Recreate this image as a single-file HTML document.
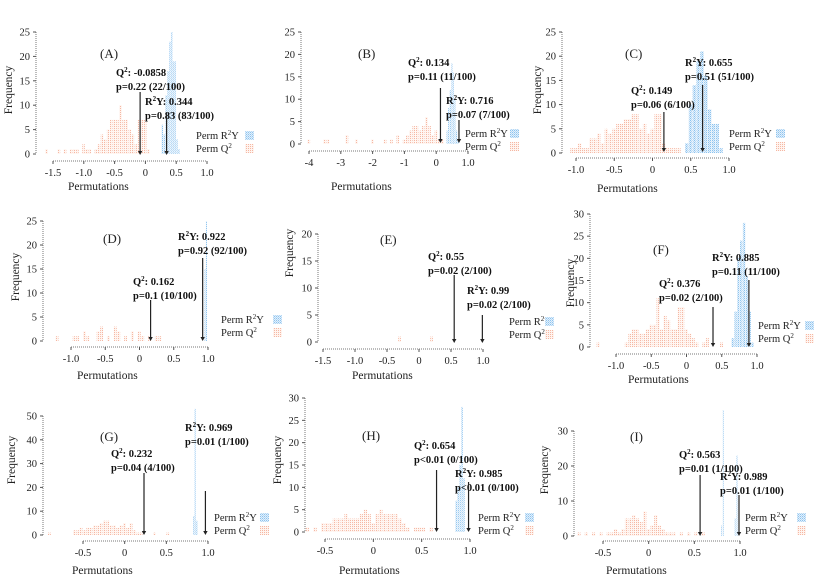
<!DOCTYPE html>
<html><head><meta charset="utf-8">
<style>
html,body{margin:0;padding:0;background:#fff;}
svg{display:block;font-family:"Liberation Serif",serif;}
.tk{font-size:10.5px;fill:#222;}
.ann{font-size:10.5px;font-weight:bold;fill:#111;}
.lg{font-size:10.5px;fill:#222;}
.pl{font-size:13px;fill:#222;}
.ttl{font-size:11.5px;fill:#222;}
</style></head>
<body>
<svg id="fig" width="830" height="584" viewBox="0 0 830 584">
<defs>
<pattern id="pq" width="2" height="2" patternUnits="userSpaceOnUse"><rect width="2" height="2" fill="#fff4ef"/><rect width="1" height="1" fill="#f5b7a3"/></pattern>
<pattern id="pr" width="2" height="2" patternUnits="userSpaceOnUse"><rect width="2" height="2" fill="#e3f0fb"/><rect width="1" height="1" fill="#8cc3ef"/><rect x="1" y="1" width="1" height="1" fill="#b5d8f5"/></pattern>
</defs>
</svg>
<script>
// ---- data (bin centers & counts) ----
const A_qBins=[-1.6,-1.4,-1.3,-1.2,-1.15,-1.1,-1.0,-0.95,-0.9,-0.8,-0.75,-0.7,-0.65,-0.6,-0.55,-0.5,-0.45,-0.4,-0.35,-0.3,-0.25,-0.2,-0.15,-0.1,-0.05,0,0.05];
const A_qCounts=[1,1,1,1,1,1,2,1,1,1,2,4,3,5,7,7,7,10,7,7,5,4,2,7,7,7,1];
const A_rBins=[0.28,0.31,0.34,0.37,0.40,0.43,0.46,0.49,0.52,0.55];
const A_rCounts=[6,4,12,17,23,25,19,19,3,1];
const B_qBins=[-4.0,-3.5,-3.4,-2.8,-2.5,-2.0,-1.6,-1.4,-1.2,-1.0,-0.9,-0.8,-0.7,-0.6,-0.5,-0.4,-0.3,-0.2,-0.1,0,0.1,0.2];
const B_qCounts=[1,1,1,2,1,1,1,1,2,1,2,3,4,4,3,4,6,4,2,3,1,1];
const B_rBins=[0.35,0.4,0.45,0.5,0.55,0.6,0.65,0.7];
const B_rCounts=[3,8,12,18,16,10,3,1];
const C_qBins=[-1.05,-1.0,-0.95,-0.9,-0.85,-0.8,-0.75,-0.7,-0.65,-0.6,-0.55,-0.5,-0.45,-0.4,-0.35,-0.3,-0.25,-0.2,-0.15,-0.1,-0.05,0,0.05,0.1,0.15,0.2,0.25,0.3,0.35];
const C_qCounts=[1,1,2,1,1,3,3,4,2,5,4,5,6,6,7,7,8,8,5,6,4,5,8,8,2,1,1,1,1];
const C_rBins=[0.45,0.5,0.55,0.6,0.65,0.7,0.75,0.8,0.85,0.9];
const C_rCounts=[2,10,14,19,21,16,9,6,6,1];
const D_qBins=[-1.2,-0.95,-0.9,-0.8,-0.75,-0.6,-0.55,-0.45,-0.35,-0.3,-0.2,-0.1,0,0.05,0.15,0.25,0.3];
const D_qCounts=[1,1,1,2,1,2,3,1,3,2,1,2,2,1,1,1,1];
const D_rBins=[0.96,0.98];
const D_rCounts=[15,25];
const E_qBins=[-0.3,0.2];
const E_qCounts=[1,1];
const E_rBins=[0.99];
const E_rCounts=[0];
const F_qBins=[-1.25,-0.85,-0.8,-0.75,-0.7,-0.65,-0.6,-0.55,-0.5,-0.45,-0.4,-0.35,-0.3,-0.25,-0.2,-0.15,-0.1,-0.05,0,0.05,0.1,0.15,0.25,0.3,0.5];
const F_qCounts=[1,1,3,4,4,3,3,4,5,5,11,4,7,6,4,4,9,9,4,3,2,1,1,2,1];
const F_rBins=[0.66,0.7,0.74,0.78,0.82,0.86,0.9,0.94];
const F_rCounts=[2,8,20,24,28,16,8,1];
const G_qBins=[-0.9,-0.6,-0.56,-0.52,-0.48,-0.44,-0.4,-0.36,-0.32,-0.28,-0.24,-0.2,-0.16,-0.12,-0.08,-0.04,0,0.04,0.08,0.12,0.16,0.2,0.36,0.52];
const G_qCounts=[1,2,2,3,2,3,3,4,4,5,6,6,4,4,3,4,5,3,5,2,1,1,1,1];
const G_rBins=[0.83,0.85,0.87];
const G_rCounts=[8,53,6];
const H_qBins=[-0.68,-0.6,-0.52,-0.48,-0.44,-0.4,-0.36,-0.32,-0.28,-0.24,-0.2,-0.16,-0.12,-0.08,-0.04,0,0.04,0.08,0.12,0.16,0.2,0.24,0.28,0.32,0.36,0.44,0.48,0.52,0.6];
const H_qCounts=[1,1,2,2,2,3,3,3,4,3,3,3,4,5,4,2,4,5,4,4,4,4,3,2,1,1,1,1,1];
const H_rBins=[0.86,0.88,0.9,0.92,0.94];
const H_rCounts=[7,10,15,28,12];
const I_qBins=[-0.76,-0.68,-0.6,-0.52,-0.44,-0.4,-0.36,-0.32,-0.28,-0.24,-0.2,-0.16,-0.12,-0.08,-0.04,0,0.04,0.08,0.12,0.16,0.2,0.24,0.28,0.36,0.44,0.52,0.6];
const I_qCounts=[1,1,1,1,1,1,2,1,2,5,5,6,5,4,7,2,3,6,3,2,1,1,1,1,1,1,1];
const I_rBins=[0.8,0.82,0.95,0.97];
const I_rCounts=[3,36,5,23];
// tick labels
const A_xTicks=[-1.5,-1.0,-0.5,0,0.5,1.0]; const A_xLabels=["-1.5","-1.0","-0.5","0","0.5","1.0"];
const B_xTicks=[-4,-3,-2,-1,0,1]; const B_xLabels=["-4","-3","-2","-1","0","1.0"];
const C_xTicks=[-1,-0.5,0,0.5,1]; const C_xLabels=["-1.0","-0.5","0","0.5","1.0"];
const E_xTicks=[-1.5,-1,-0.5,0,0.5,1]; const E_xLabels=["-1.5","-1.0","-0.5","0","0.5","1.0"];
const G_xTicks=[-0.5,0,0.5,1]; const G_xLabels=["-0.5","0","0.5","1.0"];
const Y25=[0,5,10,15,20,25]; const Y20=[0,5,10,15,20]; const Y30=[0,5,10,15,20,25,30];
const Y50=[0,10,20,30,40,50]; const Y30b=[0,10,20,30];
// Q2 / R2Y observed values
const obsQ=[-0.0858,0.134,0.149,0.162,0.55,0.376,0.232,0.654,0.563];
const obsR=[0.344,0.716,0.655,0.922,0.99,0.885,0.969,0.985,0.989];

// ---- layout ----
const P=[
 {id:"A",ax:36,y0:154,yt:32,ymax:25,yT:Y25,xa:161,v0:-1.5,x0:53,v1:1,x1:207,xT:A_xTicks,xL:A_xLabels,qb:A_qBins,qc:A_qCounts,rb:A_rBins,rc:A_rCounts,qw:0.05,rw:0.03,
  lab:[100,58],qt:[116,76],qa:[92,155],rt:[145,105],ra:[113,155],lg:[196,245,139],ft:8,fy:90,tt:[68,190]},
 {id:"B",ax:301,y0:144,yt:32,ymax:25,yT:Y25,xa:151,v0:-4,x0:309,v1:1,x1:468,xT:B_xTicks,xL:B_xLabels,qb:B_qBins,qc:B_qCounts,rb:B_rBins,rc:B_rCounts,qw:0.1,rw:0.05,
  lab:[358,58],qt:[408,66],qa:[88,143],rt:[446,104],ra:[120,143],lg:[465,510,137],ft:null,tt:[331,190]},
 {id:"C",ax:562,y0:153,yt:32,ymax:25,yT:Y25,xa:158,v0:-1,x0:576,v1:1,x1:729,xT:C_xTicks,xL:C_xLabels,qb:C_qBins,qc:C_qCounts,rb:C_rBins,rc:C_rCounts,qw:0.05,rw:0.05,
  lab:[625,58],qt:[631,94],qa:[112,152],rt:[685,66],ra:[85,152],lg:[729,776,137],ft:537,fy:90,tt:[597,192]},
 {id:"D",ax:43,y0:341,yt:221,ymax:25,yT:Y25,xa:347,v0:-1,x0:71,v1:1,x1:208,xT:C_xTicks,xL:C_xLabels,qb:D_qBins,qc:D_qCounts,rb:D_rBins,rc:D_rCounts,qw:0.05,rw:0.02,
  lab:[103,243],qt:[133,285],qa:[300,341],rt:[178,240],ra:[258,341],lg:[221,273,323],ft:15,fy:277,tt:[77,379]},
 {id:"E",ax:318,y0:342,yt:234,ymax:20,yT:Y20,xa:349,v0:-1.5,x0:323,v1:1,x1:483,xT:E_xTicks,xL:E_xLabels,qb:E_qBins,qc:E_qCounts,rb:E_rBins,rc:E_rCounts,qw:0.05,rw:0.02,
  lab:[380,244],qt:[428,260],qa:[275,343],rt:[467,294],ra:[315,343],lg:[509,545,325],ft:289,fy:253,tt:[352,379]},
 {id:"F",ax:590,y0:347,yt:214,ymax:30,yT:Y30,xa:354,v0:-1,x0:616,v1:1,x1:757,xT:C_xTicks,xL:C_xLabels,qb:F_qBins,qc:F_qCounts,rb:F_rBins,rc:F_rCounts,qw:0.05,rw:0.04,
  lab:[653,254],qt:[659,287],qa:[307,347],rt:[712,261],ra:[280,347],lg:[758,805,329],ft:570,fy:283,tt:[628,383]},
 {id:"G",ax:43,y0:535,yt:416,ymax:50,yT:Y50,xa:541,v0:-0.5,x0:83,v1:1,x1:208,xT:G_xTicks,xL:G_xLabels,qb:G_qBins,qc:G_qCounts,rb:G_rBins,rc:G_rCounts,qw:0.04,rw:0.02,
  lab:[100,441],qt:[111,457],qa:[473,535],rt:[185,431],ra:[491,535],lg:[214,260,521],ft:11,fy:460,tt:[72,574]},
 {id:"H",ax:305,y0:532,yt:398,ymax:30,yT:Y30,xa:539,v0:-0.5,x0:325,v1:1,x1:470,xT:G_xTicks,xL:G_xLabels,qb:H_qBins,qc:H_qCounts,rb:H_rBins,rc:H_rCounts,qw:0.04,rw:0.02,
  lab:[362,440],qt:[414,449],qa:[470,532],rt:[455,477],ra:[482,532],lg:[478,525,521],ft:277,fy:460,tt:[339,574]},
 {id:"I",ax:574,y0:536,yt:431,ymax:30,yT:Y30b,xa:541,v0:-0.5,x0:603,v1:1,x1:740,xT:G_xTicks,xL:G_xLabels,qb:I_qBins,qc:I_qCounts,rb:I_rBins,rc:I_rCounts,qw:0.04,rw:0.015,
  lab:[630,441],qt:[679,458],qa:[475,536],rt:[720,480],ra:[495,536],lg:[745,797,521],ft:544,fy:470,tt:[606,574]}
];
const qP=["p=0.22 (22/100)","p=0.11 (11/100)","p=0.06 (6/100)","p=0.1 (10/100)","p=0.02 (2/100)","p=0.02 (2/100)","p=0.04 (4/100)","p<0.01 (0/100)","p=0.01 (1/100)"];
const rP=["p=0.83 (83/100)","p=0.07 (7/100)","p=0.51 (51/100)","p=0.92 (92/100)","p=0.02 (2/100)","p=0.11 (11/100)","p=0.01 (1/100)","p<0.01 (0/100)","p=0.01 (1/100)"];
const qS=["-0.0858","0.134","0.149","0.162","0.55","0.376","0.232","0.654","0.563"];
const rS=["0.344","0.716","0.655","0.922","0.99","0.885","0.969","0.985","0.989"];

const svg=document.getElementById('fig');
const NS="http://www.w3.org/2000/svg";
function mk(tag,attrs,parent){const e=document.createElementNS(NS,tag);for(const k in attrs)e.setAttribute(k,attrs[k]);(parent||svg).appendChild(e);return e;}

P.forEach((p,i)=>{
 const g=mk('g',{});
 
 
 const xs=v=>p.x0+(v-p.v0)*(p.x1-p.x0)/(p.v1-p.v0);
 const ys=c=>p.y0-c*(p.y0-p.yt)/p.ymax;
 const ppu=(p.x1-p.x0)/(p.v1-p.v0);
 p.qb.forEach((b,j)=>{
  const h=p.y0-ys(p.qc[j]); if(h<=0)return;
  const r=mk('rect',{x:xs(b)-p.qw*ppu/2,y:ys(p.qc[j]),width:Math.max(1,p.qw*ppu-0.5),height:h,fill:'url(#pq)'},g);
  
  
 });
 p.rb.forEach((b,j)=>{
  const h=p.y0-ys(p.rc[j]); if(h<=0)return;
  const r=mk('rect',{x:xs(b)-p.rw*ppu/2,y:ys(p.rc[j]),width:Math.max(1,p.rw*ppu-0.5),height:h,fill:'url(#pr)'},g);
  
  
 });
 const ya=mk('line',{x1:p.ax,y1:p.yt,x2:p.ax,y2:p.y0,stroke:'#777','stroke-width':1,'stroke-dasharray':'1 1'},g);
  
 p.yT.forEach(t=>{
  const y=ys(t);
  mk('line',{x1:p.ax-3,y1:y,x2:p.ax,y2:y,stroke:'#555'},g);
  const tx=mk('text',{x:p.ax-6,y:y+3.5,'text-anchor':'end',class:'tk'},g); tx.textContent=t;
   
 });
 const xa=mk('line',{x1:p.x0,y1:p.xa,x2:p.x1,y2:p.xa,stroke:'#777','stroke-width':1,'stroke-dasharray':'1 1'},g);
  
 p.xT.forEach((t,j)=>{
  const x=xs(t);
  mk('line',{x1:x,y1:p.xa,x2:x,y2:p.xa+3,stroke:'#555'},g);
  const tx=mk('text',{x:x,y:p.xa+15,'text-anchor':'middle',class:'tk'},g); tx.textContent=p.xL[j];
   
 });
 const xt=mk('text',{x:p.tt[0],y:p.tt[1],class:'ttl'},g); xt.textContent='Permutations';
  
 if(p.ft!==null){
  const yt=mk('text',{x:0,y:0,class:'ttl','text-anchor':'middle',transform:`translate(${p.ft+4},${p.fy}) rotate(-90)`},g); yt.textContent='Frequency';
   
 }
 const pl=mk('text',{x:p.lab[0],y:p.lab[1],class:'pl'},g); pl.textContent='('+p.id+')';
  
 const qt=mk('text',{x:p.qt[0],y:p.qt[1],class:'ann'},g);
 qt.innerHTML='Q<tspan dy="-4" font-size="7">2</tspan><tspan dy="4">: '+qS[i]+'</tspan>';
  
 const qp=mk('text',{x:p.qt[0],y:p.qt[1]+14,class:'ann'},g); qp.textContent=qP[i];
  
 const rt=mk('text',{x:p.rt[0],y:p.rt[1],class:'ann'},g);
 rt.innerHTML='R<tspan dy="-4" font-size="7">2</tspan><tspan dy="4">Y: '+rS[i]+'</tspan>';
  
 const rp=mk('text',{x:p.rt[0],y:p.rt[1]+14,class:'ann'},g); rp.textContent=rP[i];
  
 [[obsQ[i],p.qa,'q2-arrow'],[obsR[i],p.ra,'r2y-arrow']].forEach(a=>{
  const x=xs(a[0]);
  const ag=mk('g',{},g);
  
  
  mk('line',{x1:x,y1:a[1][0],x2:x,y2:a[1][1]-3,stroke:'#222','stroke-width':1.2},ag);
  mk('path',{d:`M${x-2.2},${a[1][1]-4} L${x+2.2},${a[1][1]-4} L${x},${a[1][1]} Z`,fill:'#222'},ag);
 });
 const lg=mk('g',{},g);
 
 
 const l1=mk('text',{x:p.lg[0],y:p.lg[2],class:'lg'},lg);
 l1.innerHTML='Perm R<tspan dy="-4" font-size="7">2</tspan><tspan dy="4">Y</tspan>';
  
 mk('rect',{x:p.lg[1],y:p.lg[2]-8,width:9,height:9,fill:'url(#pr)'},lg);
 const l2=mk('text',{x:p.lg[0],y:p.lg[2]+13,class:'lg'},lg);
 l2.innerHTML='Perm Q<tspan dy="-4" font-size="7">2</tspan>';
  
 mk('rect',{x:p.lg[1],y:p.lg[2]+5,width:9,height:9,fill:'url(#pq)'},lg);
});
</script>
</body></html>
